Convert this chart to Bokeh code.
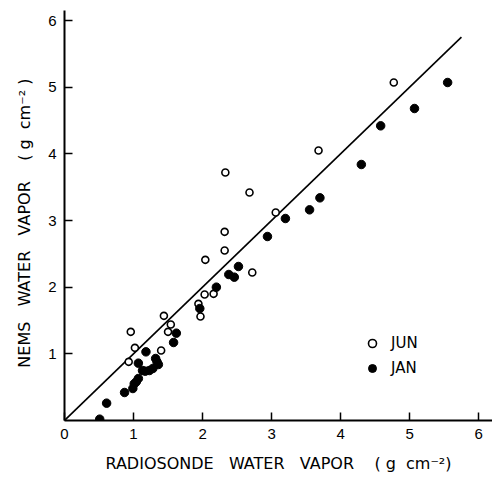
from bokeh.plotting import figure
from bokeh.models import ColumnDataSource, FixedTicker, Range1d, Legend, LegendItem
from bokeh.embed import file_html
from bokeh.resources import INLINE

# JAN (filled) radiosonde vs NEMS water vapor, g cm^-2
jan_radiosonde = [0.51, 0.61, 0.87, 0.99, 1.01, 1.04, 1.07, 1.07, 1.13, 1.17, 1.23, 1.28,
                  1.32, 1.34, 1.36, 1.18, 1.58, 1.62, 1.96, 2.20, 2.38, 2.46, 2.52, 2.94,
                  3.20, 3.55, 3.70, 4.30, 4.58, 5.07, 5.55]
jan_nems = [0.02, 0.26, 0.42, 0.48, 0.55, 0.58, 0.63, 0.86, 0.75, 0.74, 0.75, 0.78,
            0.93, 0.88, 0.84, 1.03, 1.17, 1.31, 1.68, 2.00, 2.19, 2.15, 2.31, 2.76,
            3.03, 3.16, 3.34, 3.84, 4.42, 4.68, 5.07]

# JUN (open) radiosonde vs NEMS water vapor
jun_radiosonde = [0.93, 0.96, 1.02, 1.40, 1.44, 1.50, 1.54, 1.94, 1.97, 2.03, 2.16, 2.04,
                  2.32, 2.32, 2.33, 2.68, 2.72, 3.06, 3.68, 4.77]
jun_nems = [0.88, 1.33, 1.09, 1.05, 1.57, 1.33, 1.44, 1.75, 1.56, 1.89, 1.90, 2.41,
            2.55, 2.83, 3.72, 3.42, 2.22, 3.12, 4.05, 5.07]

# 1:1 line
line_x = [0, 5.75]
line_y = [0, 5.75]

x_ticks = [0, 1, 2, 3, 4, 5, 6]
y_ticks = [1, 2, 3, 4, 5, 6]

TICK_FONT = "Liberation Sans"
LABEL_FONT = "DejaVu Sans"
S = "\u00a0"

p = figure(width=492, height=479, output_backend="svg", toolbar_location=None,
           x_range=Range1d(0, 6.2), y_range=Range1d(0, 6.15),
           min_border_left=64, min_border_right=0, min_border_top=10, min_border_bottom=59)
p.outline_line_color = None
p.grid.visible = False
p.background_fill_color = "white"
p.border_fill_color = "white"

p.line(line_x, line_y, line_color="black", line_width=1.6)

jun_src = ColumnDataSource(dict(x=jun_radiosonde, y=jun_nems))
jan_src = ColumnDataSource(dict(x=jan_radiosonde, y=jan_nems))
r_jun = p.scatter("x", "y", source=jun_src, marker="circle", size=7,
                  fill_color="white", line_color="black", line_width=1.6)
r_jan = p.scatter("x", "y", source=jan_src, marker="circle", size=8.5,
                  fill_color="black", line_color="black", line_width=1)

for ax in (p.xaxis[0], p.yaxis[0]):
    ax.axis_line_width = 2
    ax.axis_line_color = "black"
    ax.major_tick_in = 8
    ax.major_tick_out = 0
    ax.major_tick_line_width = 1.5
    ax.minor_tick_line_color = None
    ax.major_label_text_font = TICK_FONT
    ax.major_label_text_font_size = "15px"
    ax.major_label_text_color = "black"
    ax.axis_label_text_font = LABEL_FONT
    ax.axis_label_text_font_size = "16px"
    ax.axis_label_text_font_style = "normal"
    ax.axis_label_text_color = "black"

p.xaxis.ticker = FixedTicker(ticks=x_ticks)
p.yaxis.ticker = FixedTicker(ticks=y_ticks)
p.xaxis.major_label_standoff = 8
p.yaxis.major_label_standoff = 8
p.xaxis.axis_label = ("RADIOSONDE" + S * 3 + "WATER" + S * 3 + "VAPOR" + S * 4 +
                      "(" + S + "g" + S * 2 + "cm⁻²)")
p.yaxis.axis_label = ("NEMS" + S * 3 + "WATER" + S * 3 + "VAPOR" + S * 4 +
                      "(" + S + "g" + S * 2 + "cm⁻²" + S + ")" + S * 3)
p.xaxis.axis_label_standoff = 12
p.yaxis.axis_label_standoff = 11

legend = Legend(items=[LegendItem(label="JUN", renderers=[r_jun]),
                       LegendItem(label="JAN", renderers=[r_jan])],
                location=(298, 42), orientation="vertical",
                glyph_width=20, glyph_height=20, spacing=5, padding=0, margin=0,
                label_standoff=9, label_text_font=LABEL_FONT, label_text_font_size="15px",
                label_text_color="black",
                border_line_color=None, background_fill_alpha=0)
p.add_layout(legend)

open("out.html", "w").write(file_html(p, INLINE))
